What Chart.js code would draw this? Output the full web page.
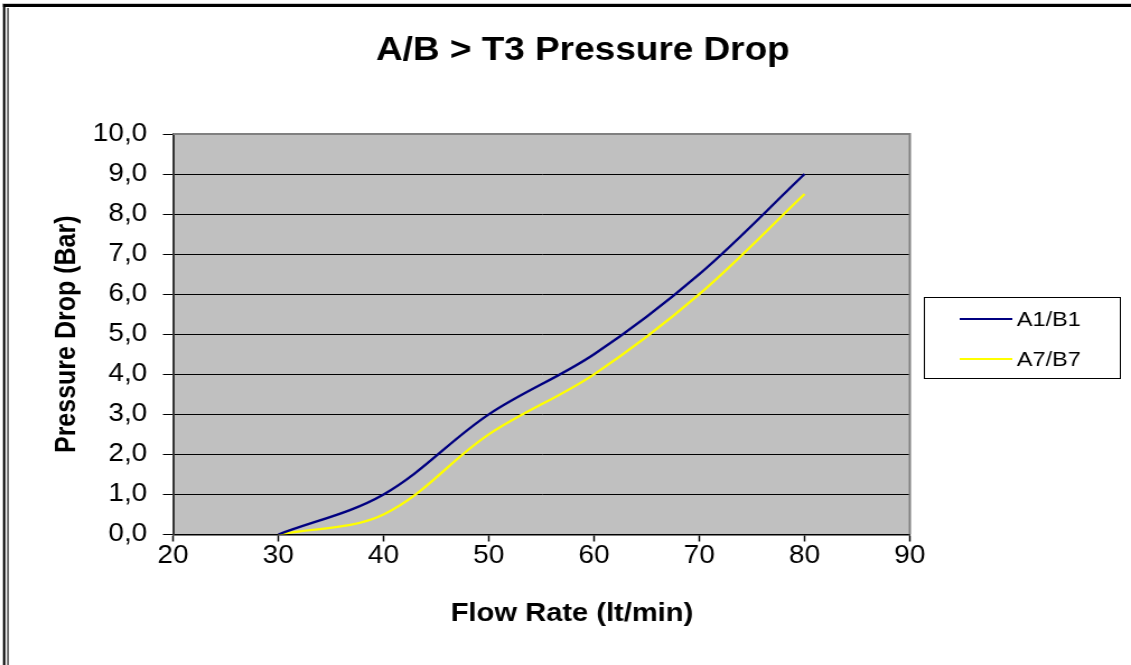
<!DOCTYPE html>
<html><head><meta charset="utf-8">
<script src="https://cdn.jsdelivr.net/npm/chart.js@4.4.1/dist/chart.umd.min.js"></script>
<style>html,body{margin:0;padding:0;background:#fff;overflow:hidden}#c{display:block;width:1131px;height:665px}</style>
</head><body>
<canvas id="c" width="1010" height="665" style="width:1131px;height:665px"></canvas>
<script>
// ---- data ----
const flowRate = [30, 40, 50, 60, 70, 80];
const seriesA1B1 = [0.0, 1.0, 3.0, 4.5, 6.5, 9.0];
const seriesA7B7 = [0.0, 0.5, 2.5, 4.0, 6.0, 8.5];
const seriesNames = ['A1/B1', 'A7/B7'];
const xTickValues = [20, 30, 40, 50, 60, 70, 80, 90];
const yTickValues = [0, 1, 2, 3, 4, 5, 6, 7, 8, 9, 10];
const chartTitle = 'A/B > T3 Pressure Drop';
const xTitle = 'Flow Rate (lt/min)';
const yTitle = 'Pressure Drop (Bar)';

const FONT = "'Liberation Sans', Arial, Helvetica, sans-serif";

const pageDecor = {
  id: 'pageDecor',
  beforeDraw(chart) {
    const ctx = chart.ctx, a = chart.chartArea;
    ctx.save();
    ctx.fillStyle = '#fff';
    ctx.fillRect(0, 0, chart.width, chart.height);
    // outer frame
    ctx.strokeStyle = '#ccc'; ctx.lineWidth = 1;
    ctx.beginPath(); ctx.moveTo(2, 3.5); ctx.lineTo(chart.width, 3.5); ctx.stroke();
    ctx.strokeStyle = '#000'; ctx.lineWidth = 3;
    ctx.beginPath(); ctx.moveTo(2.7, 5.5); ctx.lineTo(chart.width, 5.5); ctx.stroke();
    ctx.lineWidth = 2;
    ctx.beginPath(); ctx.moveTo(3.7, 4); ctx.lineTo(3.7, chart.height); ctx.stroke();
    ctx.strokeStyle = '#555'; ctx.lineWidth = 1.6;
    ctx.beginPath(); ctx.moveTo(7.1, 8); ctx.lineTo(7.1, chart.height); ctx.stroke();
    // plot area
    ctx.fillStyle = '#C0C0C0';
    ctx.fillRect(a.left, a.top, a.right - a.left, a.bottom - a.top);
    ctx.restore();
  },
  beforeDatasetsDraw(chart) {
    const ctx = chart.ctx, a = chart.chartArea;
    ctx.save();
    ctx.strokeStyle = '#808080'; ctx.lineWidth = 2;
    ctx.beginPath();
    ctx.moveTo(a.left, a.top); ctx.lineTo(a.right, a.top); ctx.lineTo(a.right, a.bottom);
    ctx.stroke();
    ctx.restore();
  },
  afterDraw(chart) {
    // x-axis title, placed as in the original (offset right of the plot centre)
    const ctx = chart.ctx;
    ctx.save();
    ctx.font = 'bold 26px ' + FONT;
    ctx.fillStyle = '#000';
    ctx.textAlign = 'center';
    ctx.textBaseline = 'middle';
    ctx.fillText(xTitle, 510.8, 614);
    ctx.restore();
  }
};

const boxLegend = {
  id: 'boxLegend',
  afterDraw(chart) {
    const ctx = chart.ctx;
    const bx = 825, by = 297, bw = 175, bh = 81;
    ctx.save();
    ctx.fillStyle = '#fff';
    ctx.fillRect(bx, by, bw, bh);
    ctx.strokeStyle = '#000'; ctx.lineWidth = 1;
    ctx.strokeRect(bx + 0.5, by + 0.5, bw, bh);
    ctx.font = '21px ' + FONT;
    ctx.textBaseline = 'middle';
    ctx.textAlign = 'left';
    chart.data.datasets.forEach((ds, i) => {
      const y = 319 + i * 40;
      ctx.strokeStyle = ds.borderColor; ctx.lineWidth = 2;
      ctx.beginPath(); ctx.moveTo(857, y); ctx.lineTo(904, y); ctx.stroke();
      ctx.fillStyle = '#000';
      ctx.fillText(ds.label, 908, y + 1);
    });
    ctx.restore();
  }
};

const toPts = (ys) => flowRate.map((x, i) => ({ x: x, y: ys[i] }));

new Chart(document.getElementById('c'), {
  type: 'line',
  data: {
    datasets: [
      { label: seriesNames[0], data: toPts(seriesA1B1), borderColor: '#000080', borderWidth: 2.3, pointRadius: 0, tension: 0.35, fill: false },
      { label: seriesNames[1], data: toPts(seriesA7B7), borderColor: '#FFFF00', borderWidth: 2.3, pointRadius: 0, tension: 0.35, fill: false }
    ]
  },
  options: {
    responsive: false,
    devicePixelRatio: 1,
    animation: false,
    events: [],
    layout: { padding: { left: 31, right: 0, top: 0, bottom: 0 } },
    plugins: {
      legend: { display: false },
      tooltip: { enabled: false },
      title: {
        display: true, text: chartTitle, color: '#000',
        font: { family: FONT, size: 33, weight: 'bold', lineHeight: 1.2 },
        padding: { top: 31, bottom: 63.4 }
      }
    },
    scales: {
      x: {
        type: 'linear', position: 'bottom', min: 20, max: 90,
        afterBuildTicks: s => { s.ticks = xTickValues.map(v => ({ value: v })); },
        afterFit: s => { s.height = 130.5; },
        ticks: { color: '#000', font: { family: FONT, size: 25 }, padding: 0, maxRotation: 0, autoSkip: false },
        grid: { drawOnChartArea: false, drawTicks: true, tickLength: 7, tickColor: '#000', tickWidth: 1.5, color: '#000' },
        border: { display: true, color: '#000', width: 1.5 },
        title: { display: false, text: xTitle }
      },
      y: {
        type: 'linear', position: 'left', min: 0, max: 10,
        afterBuildTicks: s => { s.ticks = yTickValues.map(v => ({ value: v })); },
        afterFit: s => { s.width = 123.5; },
        ticks: { color: '#000', font: { family: FONT, size: 25 }, padding: 14, callback: v => v.toFixed(1).replace('.', ',') },
        grid: { drawOnChartArea: true, drawTicks: true, tickLength: 9, tickColor: '#000', color: c => (c.tick && c.tick.value === 10 ? '#808080' : '#000'), lineWidth: 1 },
        border: { display: true, color: '#333', width: 2 },
        title: { display: true, text: yTitle, color: '#000', font: { family: FONT, size: 25, weight: 'bold', lineHeight: 1.2 }, padding: { top: 14, bottom: 0 } }
      },
      spacer: {
        type: 'linear', position: 'right', display: true,
        afterFit: s => { s.width = 197.5; },
        ticks: { display: false },
        grid: { display: false, drawTicks: false },
        border: { display: false },
        title: { display: false }
      }
    }
  },
  plugins: [pageDecor, boxLegend]
});
</script>
</body></html>
